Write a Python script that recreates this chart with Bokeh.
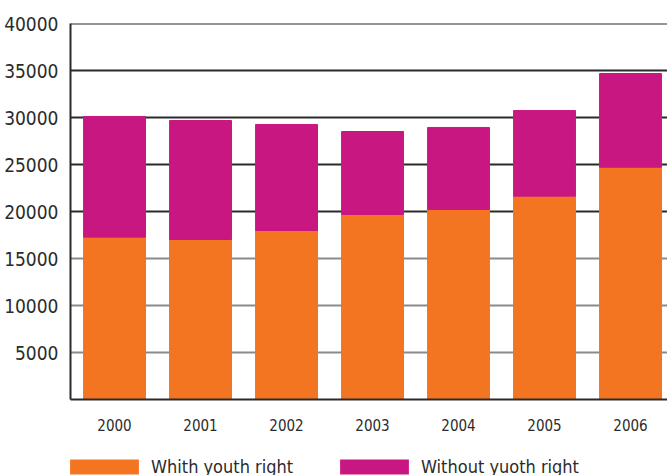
from bokeh.plotting import figure
from bokeh.models import ColumnDataSource, FixedTicker, Span, Legend, LegendItem, Range1d
from bokeh.layouts import column
from bokeh.embed import file_html
from bokeh.resources import INLINE

years = ["2000", "2001", "2002", "2003", "2004", "2005", "2006"]
with_youth_right = [17270, 17020, 17980, 19680, 20210, 21630, 24710]
without_youth_right = [12840, 12660, 11280, 8830, 8730, 9110, 9970]
y_ticks = [5000, 10000, 15000, 20000, 25000, 30000, 35000, 40000]
series_labels = ["Whith youth right", "Without yuoth right"]

ORANGE = "#F37521"
MAGENTA = "#C91782"
TEXT = "#2b2b2b"
FONT = "DejaVu Sans Condensed"

x_pos = list(range(len(years)))
source = ColumnDataSource(dict(x=x_pos, with_yr=with_youth_right, without_yr=without_youth_right))

p = figure(width=667, height=434, output_backend="svg", toolbar_location=None,
           x_range=Range1d(-0.512, 6.43), y_range=Range1d(0, 40000),
           min_border_left=70, min_border_right=0, min_border_top=23, min_border_bottom=35)
p.outline_line_color = None
p.xgrid.visible = False
p.ygrid.visible = False

for v in y_ticks:
    col = "#2a2a2a" if v >= 20000 else "#8a8a8a"
    p.add_layout(Span(location=v, dimension="width", line_color=col, line_width=2, level="underlay"))

rs = p.vbar_stack(["with_yr", "without_yr"], x="x", width=0.72, color=[ORANGE, MAGENTA], source=source)

p.yaxis.ticker = FixedTicker(ticks=y_ticks)
p.yaxis.major_tick_line_color = None
p.yaxis.minor_tick_line_color = None
p.yaxis.axis_line_color = "#2a2a2a"
p.yaxis.axis_line_width = 2
p.yaxis.major_label_standoff = 6
p.yaxis.major_label_text_font = FONT
p.yaxis.major_label_text_font_size = "19px"
p.yaxis.major_label_text_color = TEXT

p.xaxis.ticker = FixedTicker(ticks=x_pos)
p.xaxis.major_label_overrides = {i: y for i, y in zip(x_pos, years)}
p.xaxis.major_tick_line_color = None
p.xaxis.minor_tick_line_color = None
p.xaxis.axis_line_color = "#2a2a2a"
p.xaxis.axis_line_width = 2
p.xaxis.major_label_standoff = 13
p.xaxis.major_label_text_font = FONT
p.xaxis.major_label_text_font_size = "15px"
p.xaxis.major_label_text_color = TEXT

# legend strip below the chart (its frame is aligned with the chart frame)
leg = figure(width=667, height=41, output_backend="svg", toolbar_location=None,
             x_range=Range1d(0, 1), y_range=Range1d(0, 1),
             x_axis_location=None, y_axis_location=None, min_border=0)
leg.outline_line_color = None
leg.xgrid.visible = False
leg.ygrid.visible = False
# zero-height helper glyphs: they only supply the legend swatches
swatches = [leg.vbar(x=[0.5], top=[0], bottom=[0], width=0.1, fill_color=c, line_color=None)
            for c in (ORANGE, MAGENTA)]

for r, lab, loc in zip(swatches, series_labels, [(-9, -2), (261, -2)]):
    lg = Legend(items=[LegendItem(label=lab, renderers=[r])], location=loc,
                glyph_width=86, glyph_height=19, label_standoff=4,
                padding=0, margin=0, border_line_color=None, background_fill_alpha=0,
                label_text_font=FONT, label_text_font_size="18px", label_text_color=TEXT)
    leg.add_layout(lg, "center")

layout = column(p, leg, spacing=0)
open("out.html", "w").write(file_html(layout, INLINE))
